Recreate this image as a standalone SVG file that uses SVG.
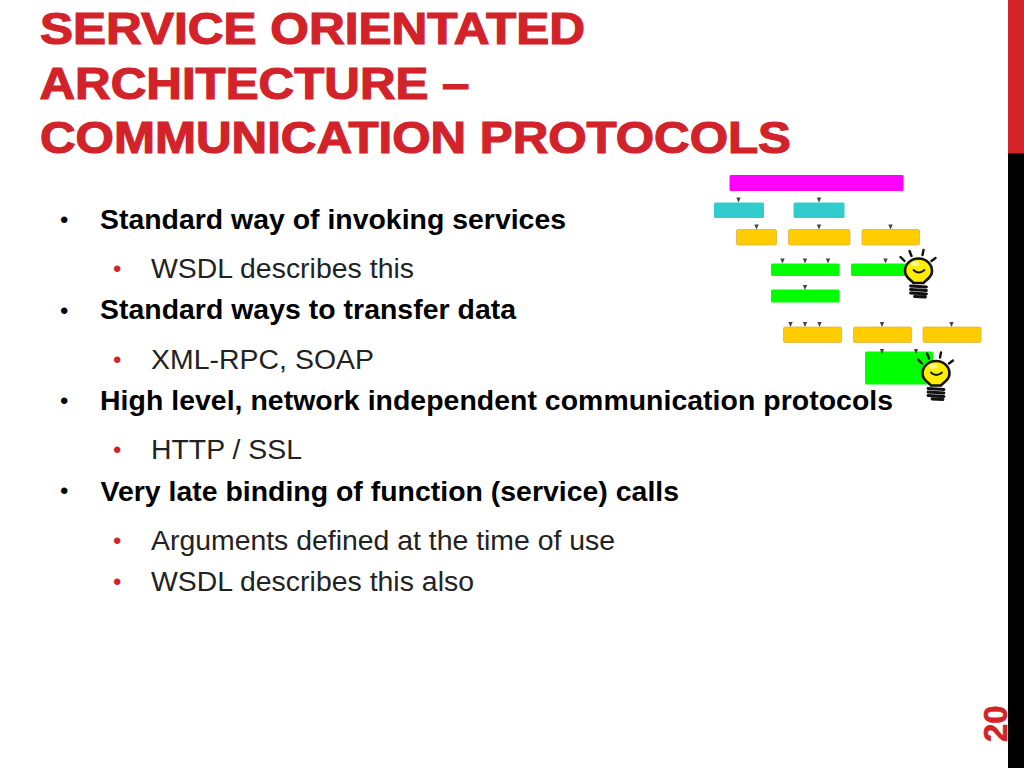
<svg xmlns="http://www.w3.org/2000/svg" width="1024" height="768" viewBox="0 0 1024 768">
<defs>
<path id="tick" d="M-2.2 -2.500H2.200L0 2.500Z" fill="#444"/>
<g id="bulb">
<g stroke="#111" stroke-width="2.400" stroke-linecap="round" fill="none">
<path d="M-18 -15L-14 -11M-9 -21L-7 -16M5 -22L4 -17M17 -14L13 -11"/>
</g>
<path d="M-5 11C-7 8 -13.500 6 -13.500 -1A13.500 12.500 0 1 1 13.500 -1C13.500 6 7 8 5 11Z" fill="#ffee00" stroke="#111" stroke-width="2.600"/>
<ellipse cx="-3" cy="-8" rx="4" ry="2.200" fill="#fff8a0"/>
<path d="M-5 -2Q0 3 6 -2" fill="none" stroke="#111" stroke-width="1.800" stroke-linecap="round"/>
<path d="M-8 14L8 15M-8 17.500L8 18.500M-8 21L8 22M-4 24.500L7 25" stroke="#111" stroke-width="2.800" stroke-linecap="round" fill="none"/>
</g>
</defs>
<style>
.t{font:bold 44.500px "Liberation Sans",Arial,sans-serif;fill:#d2232a;stroke:#d2232a;stroke-width:1.200}
.a{font:bold 28.400px "Liberation Sans",Arial,sans-serif;fill:#000}
.b{font:28.400px "Liberation Sans",Arial,sans-serif;fill:#222}
.d1{font:24px "Liberation Sans",Arial,sans-serif;fill:#000}
.d2{font:24px "Liberation Sans",Arial,sans-serif;fill:#d2232a}
.m{fill:#ff00ff}.c{fill:#33cccc}.o{fill:#ffcc00;stroke:#d9b24a;stroke-width:.8}.g{fill:#00ff00}
</style>
<rect width="1024" height="768" fill="#fff"/>
<rect x="1008" width="16" height="768" fill="#000"/>
<rect x="1008" width="16" height="153.500" fill="#d2232a"/>
<g id="title">
<text class="t" x="40" y="43.500" textLength="545" lengthAdjust="spacingAndGlyphs">SERVICE ORIENTATED</text>
<text class="t" x="39.500" y="98.500" textLength="430" lengthAdjust="spacingAndGlyphs">ARCHITECTURE –</text>
<text class="t" x="40" y="152.500" textLength="751" lengthAdjust="spacingAndGlyphs">COMMUNICATION PROTOCOLS</text>
</g>
<g id="bullets">
<text class="d1" x="60" y="228">•</text><text class="a" x="100" y="229" textLength="466">Standard way of invoking services</text>
<text class="d2" x="113" y="277">•</text><text class="b" x="151" y="278" textLength="263">WSDL describes this</text>
<text class="d1" x="60" y="319">•</text><text class="a" x="100" y="319" textLength="416">Standard ways to transfer data</text>
<text class="d2" x="113" y="368">•</text><text class="b" x="151" y="369" textLength="223">XML-RPC, SOAP</text>
<text class="d1" x="60" y="409">•</text><text class="a" x="100" y="410" textLength="793">High level, network independent communication protocols</text>
<text class="d2" x="113" y="458">•</text><text class="b" x="151" y="459" textLength="151">HTTP / SSL</text>
<text class="d1" x="60" y="499">•</text><text class="a" x="100.500" y="501" textLength="578.500">Very late binding of function (service) calls</text>
<text class="d2" x="113" y="549">•</text><text class="b" x="151" y="550" textLength="464">Arguments defined at the time of use</text>
<text class="d2" x="113" y="590">•</text><text class="b" x="151" y="591" textLength="323">WSDL describes this also</text>
</g>
<g id="blocks">
<rect class="m" x="729.500" y="175" width="174" height="16" rx="1.500"/>
<rect class="c" x="714" y="202.500" width="50" height="15.500" rx="1.500"/>
<rect class="c" x="793.500" y="202.500" width="51" height="15.500" rx="1.500"/>
<rect class="o" x="736.500" y="229.500" width="40" height="15.500" rx="1.500"/>
<rect class="o" x="788.500" y="229.500" width="61.500" height="15.500" rx="1.500"/>
<rect class="o" x="862" y="229.500" width="57.500" height="15.500" rx="1.500"/>
<rect class="g" x="771" y="263.500" width="68.500" height="12.500" rx="1.500"/>
<rect class="g" x="851" y="263.500" width="60" height="12.500" rx="1.500"/>
<rect class="g" x="771" y="289.500" width="68.500" height="13" rx="1.500"/>
<rect class="o" x="783.500" y="327" width="58" height="15.500" rx="1.500"/>
<rect class="o" x="853.500" y="327" width="58" height="15.500" rx="1.500"/>
<rect class="o" x="923" y="327" width="58" height="15.500" rx="1.500"/>
<rect class="g" x="865" y="351.500" width="68" height="33" rx="1.500"/>
</g>
<g id="ticks">
<use href="#tick" x="738.500" y="200"/><use href="#tick" x="819" y="200"/>
<use href="#tick" x="756.500" y="227"/><use href="#tick" x="819" y="227"/><use href="#tick" x="890.500" y="227"/>
<use href="#tick" x="782.500" y="261"/><use href="#tick" x="805" y="261"/><use href="#tick" x="828" y="261"/><use href="#tick" x="885.500" y="261"/>
<use href="#tick" x="805" y="287.500"/>
<use href="#tick" x="790.500" y="324.500"/><use href="#tick" x="805" y="324.500"/><use href="#tick" x="819.500" y="324.500"/><use href="#tick" x="882" y="324.500"/><use href="#tick" x="951.500" y="324.500"/>
<use href="#tick" x="882" y="351.500"/><use href="#tick" x="916" y="351.500"/>
</g>
<g id="bulb1"><use href="#bulb" x="918.500" y="272"/></g>
<g id="bulb2"><use href="#bulb" x="936" y="374.500"/></g>
<text x="1007" y="742" transform="rotate(-90 1007 742)" font-family="Liberation Sans,Arial,sans-serif" font-weight="bold" font-size="33" fill="#d2232a" stroke="#d2232a" stroke-width=".6">20</text>
</svg>
